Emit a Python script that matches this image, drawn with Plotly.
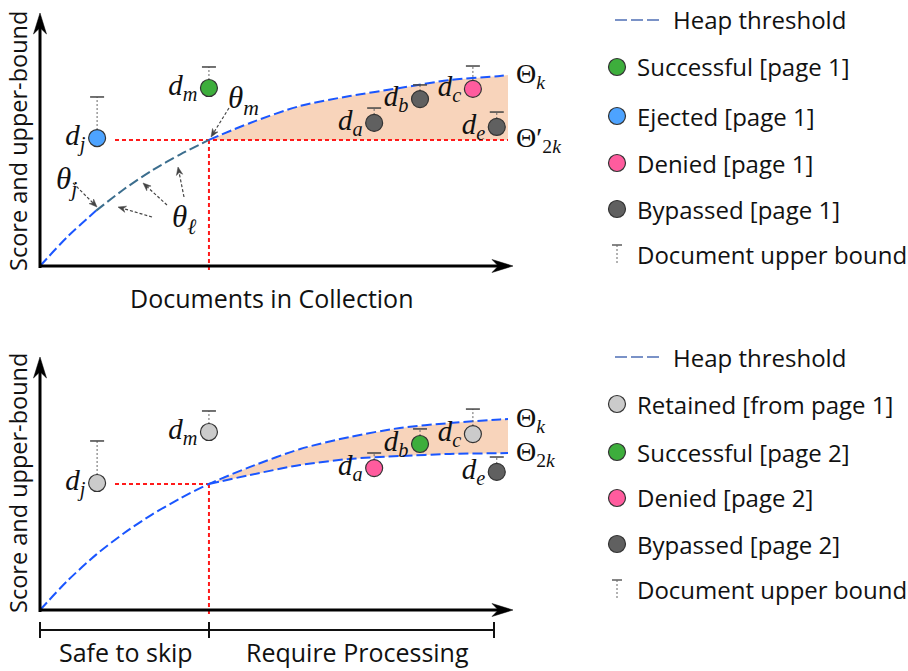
import math
import plotly.graph_objects as go

W, H = 908, 671

# ---------------- data ----------------
# heap threshold curve (fraction of collection -> score)
curve_left_x = [0.0, 0.06, 0.12, 0.18, 0.24, 0.30, 0.361]
curve_left_y = [0.0, 0.156, 0.29, 0.403, 0.501, 0.585, 0.66]
teal_start = 2  # index where the theta_l segment starts (theta_j)

top_tail_x = [0.361, 0.449, 0.556, 0.662, 0.769, 0.876, 0.983, 1.0]
top_tail_y = [0.66, 0.749, 0.838, 0.89, 0.932, 0.974, 0.995, 1.0]

bot_upper_x = [0.361, 0.449, 0.556, 0.662, 0.769, 0.876, 0.983, 1.0]
bot_upper_y = [0.66, 0.749, 0.843, 0.906, 0.953, 0.979, 0.998, 1.0]
bot_lower_x = [0.361, 0.449, 0.556, 0.662, 0.769, 0.876, 0.983, 1.0]
bot_lower_y = [0.66, 0.707, 0.759, 0.791, 0.806, 0.817, 0.821, 0.822]

theta_x = 0.361
theta_y = 0.66

docs = ["j", "m", "a", "b", "c", "e"]
doc_x = [0.122, 0.361, 0.714, 0.812, 0.925, 0.976]
top_score = [0.670, 0.932, 0.749, 0.874, 0.927, 0.728]
top_ub = [0.885, 1.042, 0.827, 0.948, 1.047, 0.806]
top_status = ["Ejected", "Successful", "Bypassed", "Bypassed", "Denied", "Bypassed"]
bot_score = [0.665, 0.932, 0.743, 0.869, 0.921, 0.723]
bot_ub = [0.885, 1.042, 0.822, 0.948, 1.052, 0.801]
bot_status = ["Retained", "Retained", "Denied", "Successful", "Retained", "Bypassed"]

status_colors = {
    "Successful": "#3DAE3C",
    "Ejected": "#4DA3FF",
    "Denied": "#FF5C9E",
    "Bypassed": "#606060",
    "Retained": "#CBCBCB",
}

top_legend = ["Heap threshold", "Successful [page 1]", "Ejected [page 1]",
              "Denied [page 1]", "Bypassed [page 1]", "Document upper bound"]
top_legend_kind = ["line", "Successful", "Ejected", "Denied", "Bypassed", "ub"]
bot_legend = ["Heap threshold", "Retained [from page 1]", "Successful [page 2]",
              "Denied [page 2]", "Bypassed [page 2]", "Document upper bound"]
bot_legend_kind = ["line", "Retained", "Successful", "Denied", "Bypassed", "ub"]

# ---------------- styling ----------------
SANS = "Open Sans"
LEG_SIZE = 24
XT_SIZE = 25
YT_SIZE = 23.5
SERIF = "Liberation Serif"
BLUE = "#1A56FF"
TEAL = "#3C6E8E"
RED = "#FF1A1A"
FILL = "#F8D4BB"
DASH = "10px,4px"

# pixel geometry
X0PX, XSCALE = 40, 468
TOP0, BOT0, YSCALE = 266, 610, 191
SPLIT = 325

def X(px):
    return (px - X0PX) / XSCALE

def YT(py):
    return (TOP0 - py) / YSCALE

def YB(py):
    return (BOT0 - py) / YSCALE

fig = go.Figure()

def add(trace, panel):
    if panel == "top":
        trace.update(xaxis="x", yaxis="y")
    else:
        trace.update(xaxis="x2", yaxis="y2")
    fig.add_trace(trace)

# ---- fills ----
add(go.Scatter(x=top_tail_x + [top_tail_x[-1], top_tail_x[0]],
               y=top_tail_y + [theta_y, theta_y],
               fill="toself", fillcolor=FILL, mode="none", hoverinfo="skip",
               showlegend=False), "top")
add(go.Scatter(x=bot_upper_x + bot_lower_x[::-1], y=bot_upper_y + bot_lower_y[::-1],
               fill="toself", fillcolor=FILL, mode="none", hoverinfo="skip",
               showlegend=False), "bot")

# ---- red dashed guides ----
for panel, xend, ybot in [("top", 1.0, YT(270)), ("bot", theta_x, YB(615))]:
    add(go.Scatter(x=[X(115), xend], y=[theta_y, theta_y], mode="lines",
                   line=dict(color=RED, width=2, dash="4px,3px"),
                   hoverinfo="skip", showlegend=False), panel)
    add(go.Scatter(x=[theta_x, theta_x], y=[theta_y, ybot], mode="lines",
                   line=dict(color=RED, width=2, dash="4px,3px"),
                   hoverinfo="skip", showlegend=False), panel)

# ---- heap threshold curves ----
def curve(xs, ys, color, panel):
    add(go.Scatter(x=xs, y=ys, mode="lines",
                   line=dict(color=color, width=2, dash=DASH, shape="spline", smoothing=0.8),
                   hoverinfo="skip", showlegend=False), panel)

curve(curve_left_x[:teal_start + 1], curve_left_y[:teal_start + 1], BLUE, "top")
curve(curve_left_x[teal_start:], curve_left_y[teal_start:], TEAL, "top")
curve(top_tail_x, top_tail_y, BLUE, "top")
curve(curve_left_x + bot_upper_x[1:], curve_left_y + bot_upper_y[1:], BLUE, "bot")
curve(bot_lower_x, bot_lower_y, BLUE, "bot")

# ---- documents ----
def docs_panel(scores, ubs, statuses, panel):
    sx, sy = [], []
    for x, s, u in zip(doc_x, scores, ubs):
        sx += [x, x, None]
        sy += [s, u, None]
    add(go.Scatter(x=sx, y=sy, mode="lines",
                   line=dict(color="#666666", width=1, dash="2px,2px"),
                   hoverinfo="skip", showlegend=False), panel)
    add(go.Scatter(x=doc_x, y=ubs, mode="markers",
                   marker=dict(symbol="line-ew", size=10,
                               line=dict(color="#444444", width=1.5)),
                   hoverinfo="skip", showlegend=False), panel)
    for st in dict.fromkeys(statuses):
        idx = [i for i, v in enumerate(statuses) if v == st]
        add(go.Scatter(x=[doc_x[i] for i in idx], y=[scores[i] for i in idx],
                       mode="markers+text",
                       text=[f"<i>d</i><sub><i>{docs[i]}</i></sub>" for i in idx],
                       textposition="middle left",
                       textfont=dict(family=SERIF, size=29, color="#111111"),
                       marker=dict(size=17, color=status_colors[st],
                                   line=dict(color="#333333", width=1.2)),
                       name=st, showlegend=False, cliponaxis=False), panel)

docs_panel(top_score, top_ub, top_status, "top")
docs_panel(bot_score, bot_ub, bot_status, "bot")

# ---------------- layout elements ----------------
shapes = []
annotations = []

def arrow_head(xref, yref, xa, ya, dx, dy, L, w, color):
    n = math.hypot(dx, dy)
    ux, uy = dx / n, dy / n
    qx, qy = -uy, ux
    bx, by = -ux * L, -uy * L
    nx, ny = -ux * L * 0.7, -uy * L * 0.7
    path = (f"M 0,0 L {bx + qx * w:.2f},{by + qy * w:.2f} L {nx:.2f},{ny:.2f} "
            f"L {bx - qx * w:.2f},{by - qy * w:.2f} Z")
    shapes.append(dict(type="path", xref=xref, yref=yref, xsizemode="pixel",
                       ysizemode="pixel", xanchor=xa, yanchor=ya, path=path,
                       fillcolor=color, line=dict(color=color, width=0.5)))

# axes with arrows
for (xr, yr, Yf, base_px, tip_px) in [("x", "y", YT, TOP0, 13), ("x2", "y2", YB, BOT0, 357)]:
    shapes.append(dict(type="line", xref=xr, yref=yr, x0=0, x1=X(500), y0=0, y1=0,
                       line=dict(color="black", width=3)))
    shapes.append(dict(type="line", xref=xr, yref=yr, x0=0, x1=0, y0=Yf(base_px + 2),
                       y1=Yf(tip_px + 14), line=dict(color="black", width=3)))
    arrow_head(xr, yr, X(513), 0, 1, 0, 21, 6.5, "black")
    arrow_head(xr, yr, 0, Yf(tip_px), 0, 1, 21, 6.5, "black")

# bracket below bottom panel
yb = YB(630)
shapes.append(dict(type="line", xref="x2", yref="y2", x0=0, x1=X(494), y0=yb, y1=yb,
                   line=dict(color="#111111", width=2)))
for bxp in [40, 209, 494]:
    shapes.append(dict(type="line", xref="x2", yref="y2", x0=X(bxp), x1=X(bxp),
                       y0=YB(622), y1=YB(638), line=dict(color="#111111", width=2)))

# theta arrows (pixel coords: tail -> head), top panel
theta_arrows = [(229, 108, 211, 137), (73, 183, 97, 207), (152, 217, 118, 207),
                (167, 205, 143, 183), (184, 197, 178, 167)]
for tx, ty, hx, hy in theta_arrows:
    dx, dy = hx - tx, -(hy - ty)
    n = math.hypot(dx, dy)
    ex, ey = hx - dx / n * 6, hy + dy / n * 6
    shapes.append(dict(type="line", xref="x", yref="y", x0=X(tx), y0=YT(ty),
                       x1=X(ex), y1=YT(ey), line=dict(color="#444444", width=1.2, dash="3px,2px")))
    arrow_head("x", "y", X(hx), YT(hy), dx, dy, 8, 3.2, "#444444")

def ann(text, x, y, xref, yref, size, family=SANS, xanchor="center", yanchor="middle", angle=0):
    annotations.append(dict(text=text, x=x, y=y, xref=xref, yref=yref, showarrow=False,
                            xanchor=xanchor, yanchor=yanchor, textangle=angle,
                            font=dict(family=family, size=size, color="#111111")))

# theta labels
ann("<i>θ</i><sub><i>m</i></sub>", X(243), YT(100), "x", "y", 31, SERIF)
ann("<i>θ</i><sub><i>j</i></sub>", X(66), YT(181), "x", "y", 31, SERIF)
ann("<i>θ</i><sub><i>ℓ</i></sub>", X(184), YT(219), "x", "y", 31, SERIF)

# Theta labels
ann("Θ<sub><i>k</i></sub>", X(514), top_tail_y[-1], "x", "y", 28, SERIF, xanchor="left")
ann("Θ′<sub>2<i>k</i></sub>", X(514), theta_y, "x", "y", 28, SERIF, xanchor="left")
ann("Θ<sub><i>k</i></sub>", X(514), bot_upper_y[-1], "x2", "y2", 28, SERIF, xanchor="left")
ann("Θ<sub>2<i>k</i></sub>", X(514), bot_lower_y[-1], "x2", "y2", 28, SERIF, xanchor="left")

# axis titles
ann("Documents in Collection", 271 / W, 1 - 298 / H, "paper", "paper", XT_SIZE)
ann("Score and upper-bound", 18 / W, 1 - 141 / H, "paper", "paper", YT_SIZE, angle=-90)
ann("Score and upper-bound", 18 / W, 1 - 483 / H, "paper", "paper", YT_SIZE, angle=-90)
ann("Safe to skip", 126 / W, 1 - 652 / H, "paper", "paper", XT_SIZE)
ann("Require Processing", 357 / W, 1 - 652 / H, "paper", "paper", XT_SIZE)

# manual legends
def legend(labels, kinds, rows):
    for lab, kind, ry in zip(labels, kinds, rows):
        py = 1 - ry / H
        if kind == "line":
            shapes.append(dict(type="line", xref="paper", yref="paper", x0=615 / W, x1=661 / W,
                               y0=py, y1=py, line=dict(color="#4F6FB5", width=1.5, dash="12px,4px")))
            ann(lab, 671 / W, py, "paper", "paper", LEG_SIZE, xanchor="left")
        elif kind == "ub":
            shapes.append(dict(type="line", xref="paper", yref="paper", x0=612 / W, x1=622 / W,
                               y0=1 - (ry - 9) / H, y1=1 - (ry - 9) / H,
                               line=dict(color="#444444", width=1.3)))
            shapes.append(dict(type="line", xref="paper", yref="paper", x0=617 / W, x1=617 / W,
                               y0=1 - (ry - 9) / H, y1=1 - (ry + 11) / H,
                               line=dict(color="#666666", width=1, dash="2px,2px")))
            ann(lab, 635 / W, py, "paper", "paper", LEG_SIZE, xanchor="left")
        else:
            shapes.append(dict(type="circle", xref="paper", yref="paper", xsizemode="pixel",
                               ysizemode="pixel", xanchor=617 / W, yanchor=py,
                               x0=-8.5, x1=8.5, y0=-8.5, y1=8.5,
                               fillcolor=status_colors[kind], line=dict(color="#333333", width=1.2)))
            ann(lab, 635 / W, py, "paper", "paper", LEG_SIZE, xanchor="left")

legend(top_legend, top_legend_kind, [20, 67, 116, 163, 209, 254])
legend(bot_legend, bot_legend_kind, [357, 404, 452, 498, 544, 589])

ax_common = dict(visible=False, fixedrange=True, showgrid=False, zeroline=False)
fig.update_layout(
    width=W, height=H,
    margin=dict(l=0, r=0, t=0, b=0),
    paper_bgcolor="white", plot_bgcolor="rgba(0,0,0,0)",
    showlegend=False,
    xaxis=dict(domain=[0, 600 / W], range=[X(0), X(600)], anchor="y", **ax_common),
    yaxis=dict(domain=[1 - SPLIT / H, 1], range=[YT(SPLIT), YT(0)], anchor="x", **ax_common),
    xaxis2=dict(domain=[0, 600 / W], range=[X(0), X(600)], anchor="y2", **ax_common),
    yaxis2=dict(domain=[0, 1 - SPLIT / H], range=[YB(H), YB(SPLIT)], anchor="x2", **ax_common),
    shapes=shapes,
    annotations=annotations,
)

fig.write_html("out.html", config={"displayModeBar": False},
               post_script="document.body.style.margin='0';document.body.style.overflow='hidden';")
